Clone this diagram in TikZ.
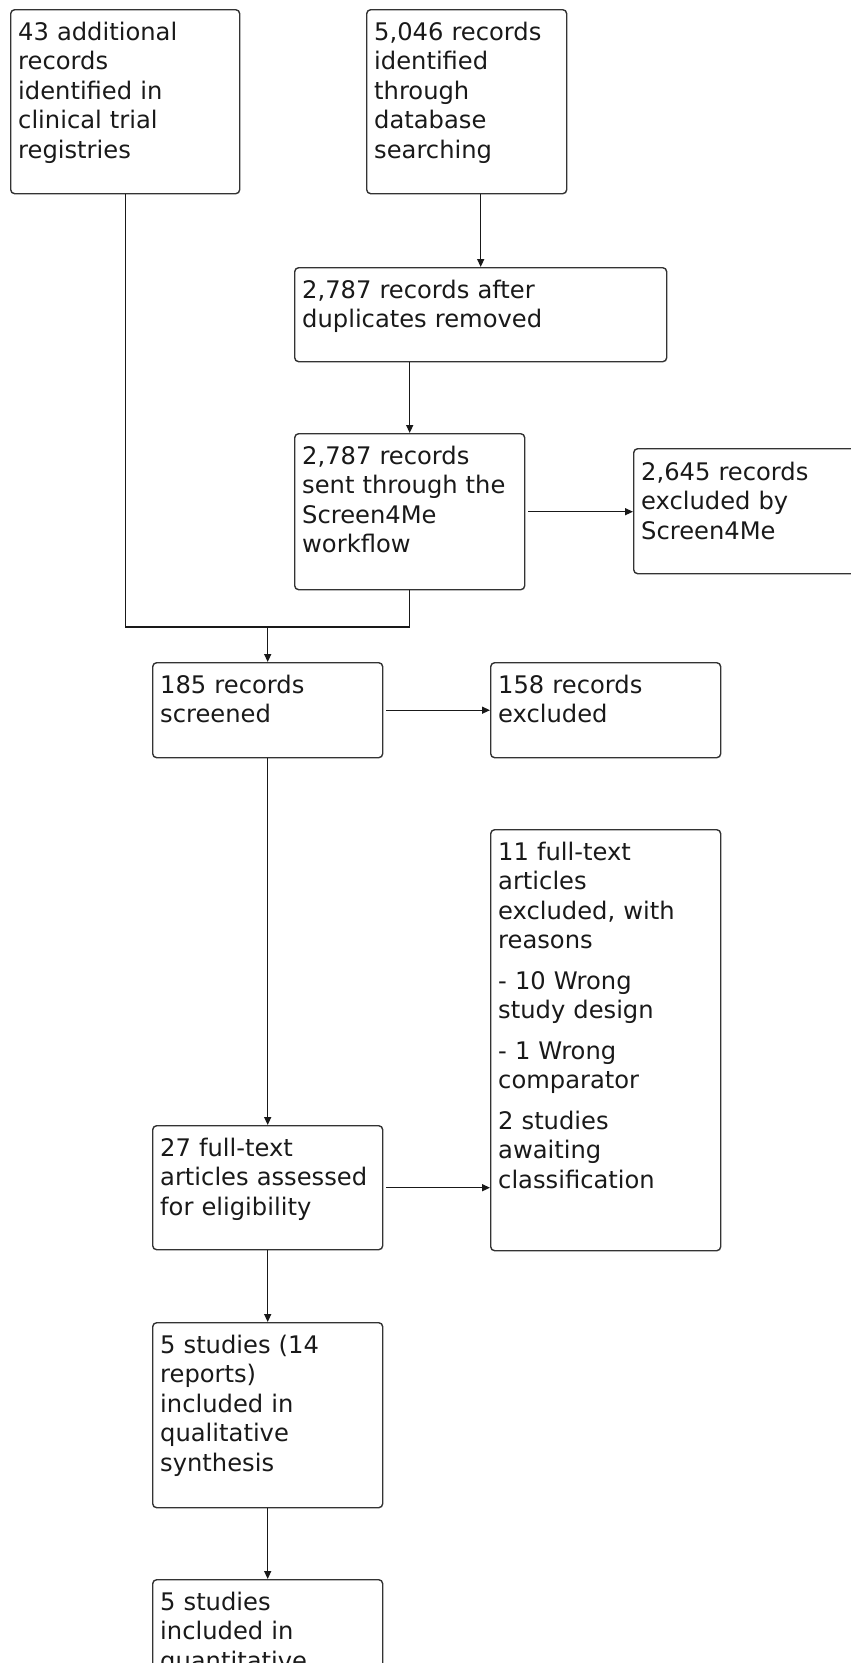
\documentclass[tikz,border=0pt]{standalone}
\usepackage{fontspec}
\setmainfont{DejaVu Sans}
\usetikzlibrary{arrows.meta,calc}
\begin{document}
\begin{tikzpicture}[x=1pt,y=-1pt,
  box/.style={draw=black!80, line width=1.4pt, rounded corners=4pt, inner sep=0pt, anchor=north west},
  txt/.style={anchor=north west, inner sep=0pt, text width=400pt, align=left, font=\fontsize{24.2}{29.5}\selectfont, text=black!90},
  conn/.style={draw=black!90, line width=1.4pt},
  arr/.style={conn, -{Triangle[length=8pt,width=7pt]}}]
\useasboundingbox (0,0) rectangle (851,1663);
\clip (0,0) rectangle (851,1663);
% boxes
\node[box, minimum width=229pt, minimum height=184pt] (b1) at (10,9) {};
\node[box, minimum width=200pt, minimum height=184pt] (b2) at (366,9) {};
\node[box, minimum width=372pt, minimum height=94pt] (b3) at (294,267) {};
\node[box, minimum width=230pt, minimum height=156pt] (b4) at (294,433) {};
\node[box, minimum width=260pt, minimum height=125pt] (b5) at (633,448) {};
\node[box, minimum width=230pt, minimum height=95pt] (b6) at (152,662) {};
\node[box, minimum width=230pt, minimum height=95pt] (b7) at (490,662) {};
\node[box, minimum width=230pt, minimum height=421pt] (b8) at (490,829) {};
\node[box, minimum width=230pt, minimum height=124pt] (b9) at (152,1125) {};
\node[box, minimum width=230pt, minimum height=185pt] (b10) at (152,1322) {};
\node[box, minimum width=230pt, minimum height=150pt] (b11) at (152,1579) {};
% texts
\node[txt] (t1) at (18,20) {\rule{0pt}{20pt}43 additional\\records\\identified in\\clinical trial\\registries};
\node[txt] (t2) at (374,20) {\rule{0pt}{20pt}5,046 records\\identified\\through\\database\\searching};
\node[txt] (t3) at (302,278) {\rule{0pt}{20pt}2,787 records after\\duplicates removed};
\node[txt] (t4) at (302,444) {\rule{0pt}{20pt}2,787 records\\sent through the\\Screen4Me\\workflow};
\node[txt] (t5) at (641,460) {\rule{0pt}{20pt}2,645 records\\excluded by\\Screen4Me};
\node[txt] (t6) at (160,673) {\rule{0pt}{20pt}185 records\\screened};
\node[txt] (t7) at (498,673) {\rule{0pt}{20pt}158 records\\excluded};
\node[txt] (t8) at (498,840) {\rule{0pt}{20pt}11 full-text\\articles\\excluded, with\\reasons\\[11pt]- 10 Wrong\\study design\\[11pt]- 1 Wrong\\comparator\\[11pt]2 studies\\awaiting\\classification};
\node[txt] (t9) at (160,1136) {\rule{0pt}{20pt}27 full-text\\articles assessed\\for eligibility};
\node[txt] (t10) at (160,1333) {\rule{0pt}{20pt}5 studies (14\\reports)\\included in\\qualitative\\synthesis};
\node[txt] (t11) at (160,1590) {\rule{0pt}{20pt}5 studies\\included in\\quantitative};
% connectors
\coordinate (j) at ($(b6.north)+(0,-35)$);
\draw[arr] (b2.south -| b3.north) -- (b3.north);
\draw[arr] (b3.south -| b4.north) -- (b4.north);
\draw[arr] ([xshift=3pt]b4.east) -- (b4.east -| b5.west);
\draw[conn] (b1.south) |- (j) -| (b4.south);
\draw[arr] (j) -- (b6.north);
\draw[arr] ([xshift=3pt]b6.east) -- (b6.east -| b7.west);
\draw[arr] (b6.south) -- (b9.north);
\draw[arr] ([xshift=3pt]b9.east) -- (b9.east -| b8.west);
\draw[arr] (b9.south) -- (b10.north);
\draw[arr] (b10.south) -- (b11.north);
\end{tikzpicture}
\end{document}
